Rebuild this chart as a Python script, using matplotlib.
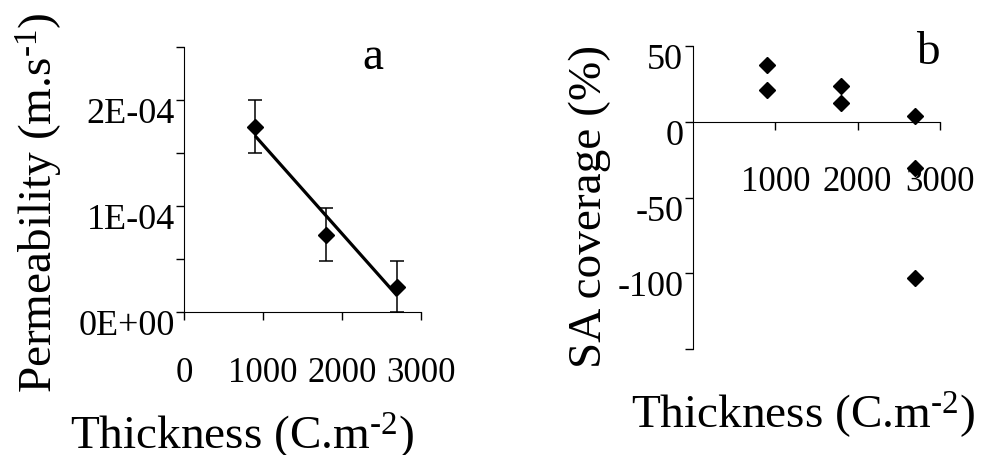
import numpy as np
import matplotlib
matplotlib.use("Agg")
import matplotlib.pyplot as plt
from matplotlib.transforms import ScaledTranslation

plt.rcParams["font.family"] = ["Liberation Serif", "DejaVu Serif"]
plt.rcParams["mathtext.fontset"] = "custom"
plt.rcParams["mathtext.rm"] = "Liberation Serif"
plt.rcParams["mathtext.default"] = "regular"

# Panel a: permeability vs film thickness
thick_a = [900, 1800, 2700]
perm = [1.75e-4, 0.73e-4, 0.24e-4]
perm_err = [0.25e-4, 0.25e-4, 0.24e-4]
a_xticks = [0, 1000, 2000, 3000]
a_xticklabels = ["0", "1000", "2000", "3000"]
a_yticks = [0, 0.5e-4, 1e-4, 1.5e-4, 2e-4, 2.5e-4]
a_yticklabels = ["0E+00", "", "1E-04", "", "2E-04", ""]

# Panel b: SA coverage vs film thickness
thick_b = [900, 900, 1800, 1800, 2700, 2700, 2700]
coverage = [37.5, 21, 23.5, 12.5, 4, -30.5, -103]
b_xticks = [1000, 2000, 3000]
b_xticklabels = ["1000", "2000", "3000"]
b_yticks = [50, 0, -50, -100, -150]
b_yticklabels = ["50", "0", "-50", "-100", ""]

XTICK_FS = 25
YTICK_FS = 26
LABEL_FS = 34

fig = plt.figure(figsize=(9.82, 4.56), dpi=100)

ax_a = fig.add_axes([184 / 982, 1 - 313 / 456, 237 / 982, 265 / 456])
ax_b = fig.add_axes([693 / 982, 1 - 350 / 456, 247 / 982, 303 / 456])

down = ScaledTranslation(0, -7 / 72, fig.dpi_scale_trans)

# --- panel a ---
ax_a.errorbar(thick_a, perm, yerr=perm_err, fmt="none", ecolor="black",
              elinewidth=1.1, capsize=4.7, capthick=1.1, clip_on=False, zorder=2)
slope, intercept = np.polyfit(thick_a, perm, 1)
fit_x = np.array([thick_a[0], thick_a[-1]])
ax_a.plot(fit_x, slope * fit_x + intercept, color="black", lw=2.3, zorder=3,
          solid_capstyle="butt")
ax_a.plot(thick_a, perm, ls="none", marker="D", ms=8.6, color="black",
          clip_on=False, zorder=4)
ax_a.set_xlim(0, 3000)
ax_a.set_ylim(0, 2.5e-4)
ax_a.set_xticks(a_xticks)
ax_a.set_xticklabels(a_xticklabels)
ax_a.set_yticks(a_yticks)
ax_a.set_yticklabels(a_yticklabels)
ax_a.spines["top"].set_visible(False)
ax_a.spines["right"].set_visible(False)
ax_a.tick_params(axis="x", direction="out", length=6, width=1, pad=26,
                 labelsize=XTICK_FS)
ax_a.tick_params(axis="y", direction="out", length=5.5, width=1, pad=1,
                 labelsize=YTICK_FS)
for lab in ax_a.get_yticklabels():
    lab.set_transform(lab.get_transform() + down)
ax_a.set_xlabel(r"Thickness (C.m$^{\text{-2}}$)", fontsize=LABEL_FS, va="center")
ax_a.xaxis.set_label_coords(0.245, -0.462)
ax_a.set_ylabel(r"Permeability (m.s$^{\text{-1}}$)", fontsize=LABEL_FS, va="center")
ax_a.yaxis.set_label_coords(-0.608, 0.415)
ax_a.text(0.797, 0.962, "a", transform=ax_a.transAxes, fontsize=LABEL_FS,
          ha="center", va="center")

# --- panel b ---
ax_b.plot(thick_b, coverage, ls="none", marker="D", ms=8.6, color="black",
          clip_on=False, zorder=4)
ax_b.set_xlim(0, 3000)
ax_b.set_ylim(-150, 50)
ax_b.set_xticks(b_xticks)
ax_b.set_xticklabels(b_xticklabels)
ax_b.set_yticks(b_yticks)
ax_b.set_yticklabels(b_yticklabels)
ax_b.spines["top"].set_visible(False)
ax_b.spines["right"].set_visible(False)
ax_b.spines["bottom"].set_position(("data", 0))
ax_b.tick_params(axis="x", direction="out", length=6, width=1, pad=25,
                 labelsize=XTICK_FS)
ax_b.tick_params(axis="y", direction="out", length=5.5, width=1, pad=1.5,
                 labelsize=YTICK_FS)
for lab in ax_b.get_yticklabels():
    lab.set_transform(lab.get_transform() + down)
ax_b.set_xlabel(r"Thickness (C.m$^{\text{-2}}$)", fontsize=LABEL_FS, va="center")
ax_b.xaxis.set_label_coords(0.445, -0.212)
ax_b.set_ylabel("SA coverage (%)", fontsize=LABEL_FS, va="center")
ax_b.yaxis.set_label_coords(-0.417, 0.475)
ax_b.text(0.951, 0.980, "b", transform=ax_b.transAxes, fontsize=LABEL_FS,
          ha="center", va="center")

fig.savefig("out.png", dpi=100)
